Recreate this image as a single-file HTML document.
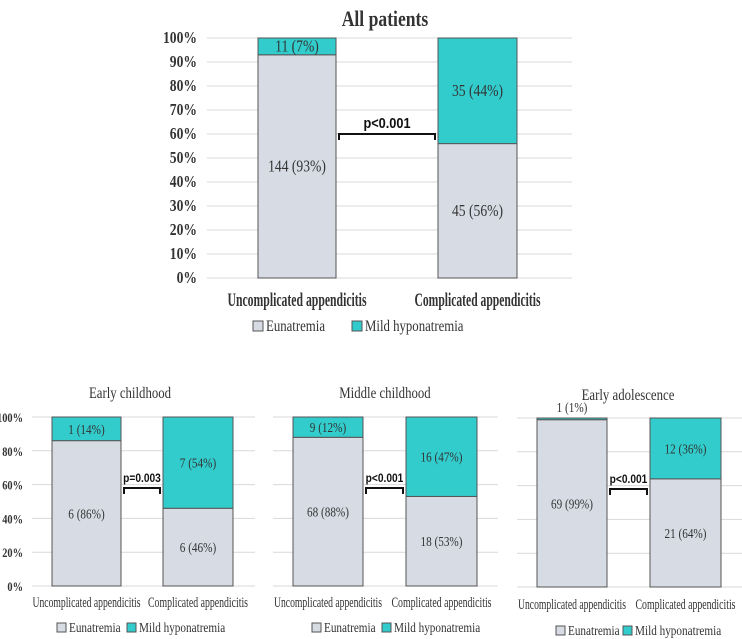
<!DOCTYPE html>
<html><head><meta charset="utf-8">
<style>
html,body{margin:0;padding:0;background:#fff;}
svg{display:block;}
.s{font-family:"Liberation Serif",serif;fill:#333;}
.p{font-family:"Liberation Sans",sans-serif;font-weight:bold;fill:#111;}
</style></head>
<body>
<svg id="chart" width="742" height="639" xmlns="http://www.w3.org/2000/svg"></svg>
<script>
const categories = ["Uncomplicated appendicitis", "Complicated appendicitis"];
const panelTitles = ["All patients", "Early childhood", "Middle childhood", "Early adolescence"];
const eunatremiaPct = [[93, 56], [86, 46], [88, 53], [99, 64]];
const eunatremiaN = [[144, 45], [6, 6], [68, 18], [69, 21]];
const hypoPct = [[7, 44], [14, 54], [12, 47], [1, 36]];
const hypoN = [[11, 35], [1, 7], [9, 16], [1, 12]];
const pValues = ["p<0.001", "p=0.003", "p<0.001", "p<0.001"];
const bracketLevel = [60, 58, 58, 58];
const topTicks = [0,10,20,30,40,50,60,70,80,90,100];
const bottomTicks = [0,20,40,60,80,100];

const NS = "http://www.w3.org/2000/svg";
const svg = document.getElementById("chart");
function mk(tag, attrs, parent, text){
  const e = document.createElementNS(NS, tag);
  for (const k in attrs) e.setAttribute(k, attrs[k]);
  if (text !== undefined) e.textContent = text;
  (parent || svg).appendChild(e);
  return e;
}
function condense(e, f){
  const w = e.getComputedTextLength();
  if (w > 0){
    e.setAttribute("textLength", (w*f).toFixed(1));
    e.setAttribute("lengthAdjust", "spacingAndGlyphs");
  }
  return e;
}
function fitTo(e, w){
  e.setAttribute("textLength", w);
  e.setAttribute("lengthAdjust", "spacingAndGlyphs");
}
const CF = 0.8;
const GREY = "#d6dbe4", TEAL = "#33cccc";

const layouts = [
  {x0:207,x1:572,yTop:38,yBot:278,bars:[[258,336],[438,517]],ticks:topTicks,showTicks:true,tickX:197,title:[385,26],catY:306,legY:331,legX:[253,352],fs:17,tfs:22,bold:true,pfs:15,labelFs:17,catFs:19,catW:[139,126],legFs:16},
  {x0:32,x1:255,yTop:417,yBot:586,bars:[[52,121],[163,233]],ticks:bottomTicks,showTicks:true,tickX:23,title:[130,398],catY:607,legY:632,legX:[57,127],fs:14,tfs:16,bold:false,pfs:12,labelFs:13,catFs:15,catW:[108,100],legFs:14},
  {x0:273,x1:498,yTop:417,yBot:586,bars:[[293,363],[406,477]],ticks:bottomTicks,showTicks:false,title:[385,398],catY:607,legY:632,legX:[312,382],fs:14,tfs:16,bold:false,pfs:12,labelFs:13,catFs:15,catW:[108,100],legFs:14},
  {x0:517,x1:742,yTop:418,yBot:587,bars:[[537,607],[650,721]],ticks:bottomTicks,showTicks:false,title:[628,400],catY:609,legY:635,legX:[556,623],fs:14,tfs:16,bold:false,pfs:12,labelFs:13,catFs:15,catW:[108,100],legFs:14}
];

layouts.forEach((L, pi) => {
  const g = mk("g", {}, svg);
  
  
  const y = v => L.yBot - v/100*(L.yBot - L.yTop);
  L.ticks.forEach(t => {
    const gl = mk("line", {x1:L.x0, x2:L.x1, y1:y(t), y2:y(t), stroke:"#d9d9d9", "stroke-width":1}, g);
    
    
    if (L.showTicks){
      const tl = mk("text", {x:L.tickX, y:y(t)+5, "text-anchor":"end", class:"s", "font-size":L.labelFs, "font-weight":"bold"}, g, t+"%");
      
      
      condense(tl, CF);
    }
  });
  const tt = mk("text", {x:L.title[0], y:L.title[1], "text-anchor":"middle", class:"s", "font-size":L.tfs, "font-weight":L.bold?"bold":"normal"}, g, panelTitles[pi]);
  
  
  condense(tt, CF);
  categories.forEach((c, ci) => {
    const [bx0, bx1] = L.bars[ci];
    const e = eunatremiaPct[pi][ci];
    const r1 = mk("rect", {x:bx0, y:y(e), width:bx1-bx0, height:y(0)-y(e), fill:GREY, stroke:"#555", "stroke-width":1}, g);
    
    
    const r2 = mk("rect", {x:bx0, y:y(100), width:bx1-bx0, height:y(e)-y(100), fill:TEAL, stroke:"#555", "stroke-width":1}, g);
    
    
    const cx = (bx0+bx1)/2;
    const l1 = mk("text", {x:cx, y:(y(e)+y(0))/2+5, "text-anchor":"middle", class:"s", "font-size":L.fs}, g, `${eunatremiaN[pi][ci]} (${e}%)`);
    
    
    condense(l1, CF);
    const h = hypoPct[pi][ci];
    let hy = (y(100)+y(e))/2+5;
    if (h < 5) hy = y(100) - 6;
    const l2 = mk("text", {x:cx, y:hy, "text-anchor":"middle", class:"s", "font-size":L.fs}, g, `${hypoN[pi][ci]} (${h}%)`);
    
    
    condense(l2, CF);
    const cl = mk("text", {x:cx, y:L.catY, "text-anchor":"middle", class:"s", "font-size":L.catFs, "font-weight":L.bold?"bold":"normal"}, g, c);
    
    
    fitTo(cl, L.catW[ci]);
  });
  const bx0 = L.bars[0][1]+3, bx1 = L.bars[1][0]-3, by = y(bracketLevel[pi]);
  const br = mk("path", {d:`M${bx0},${by+6} V${by} H${bx1} V${by+6}`, fill:"none", stroke:"#111", "stroke-width":2}, g);
  
  
  const pt = mk("text", {x:(bx0+bx1)/2, y:by-6, "text-anchor":"middle", class:"p", "font-size":L.pfs}, g, pValues[pi]);
  
  
  condense(pt, 0.85);
  const sz = Math.round(L.legFs*0.65);
  [["Eunatremia", GREY], ["Mild hyponatremia", TEAL]].forEach(([name, col], li) => {
    const lx = L.legX[li];
    const lg = mk("g", {}, g);
    
    
    mk("rect", {x:lx, y:L.legY-sz, width:sz, height:sz, fill:col, stroke:"#555", "stroke-width":1}, lg);
    const lt = mk("text", {x:lx+sz+3, y:L.legY, class:"s", "font-size":L.legFs}, lg, name);
    condense(lt, CF);
  });
});
</script>
</body></html>
